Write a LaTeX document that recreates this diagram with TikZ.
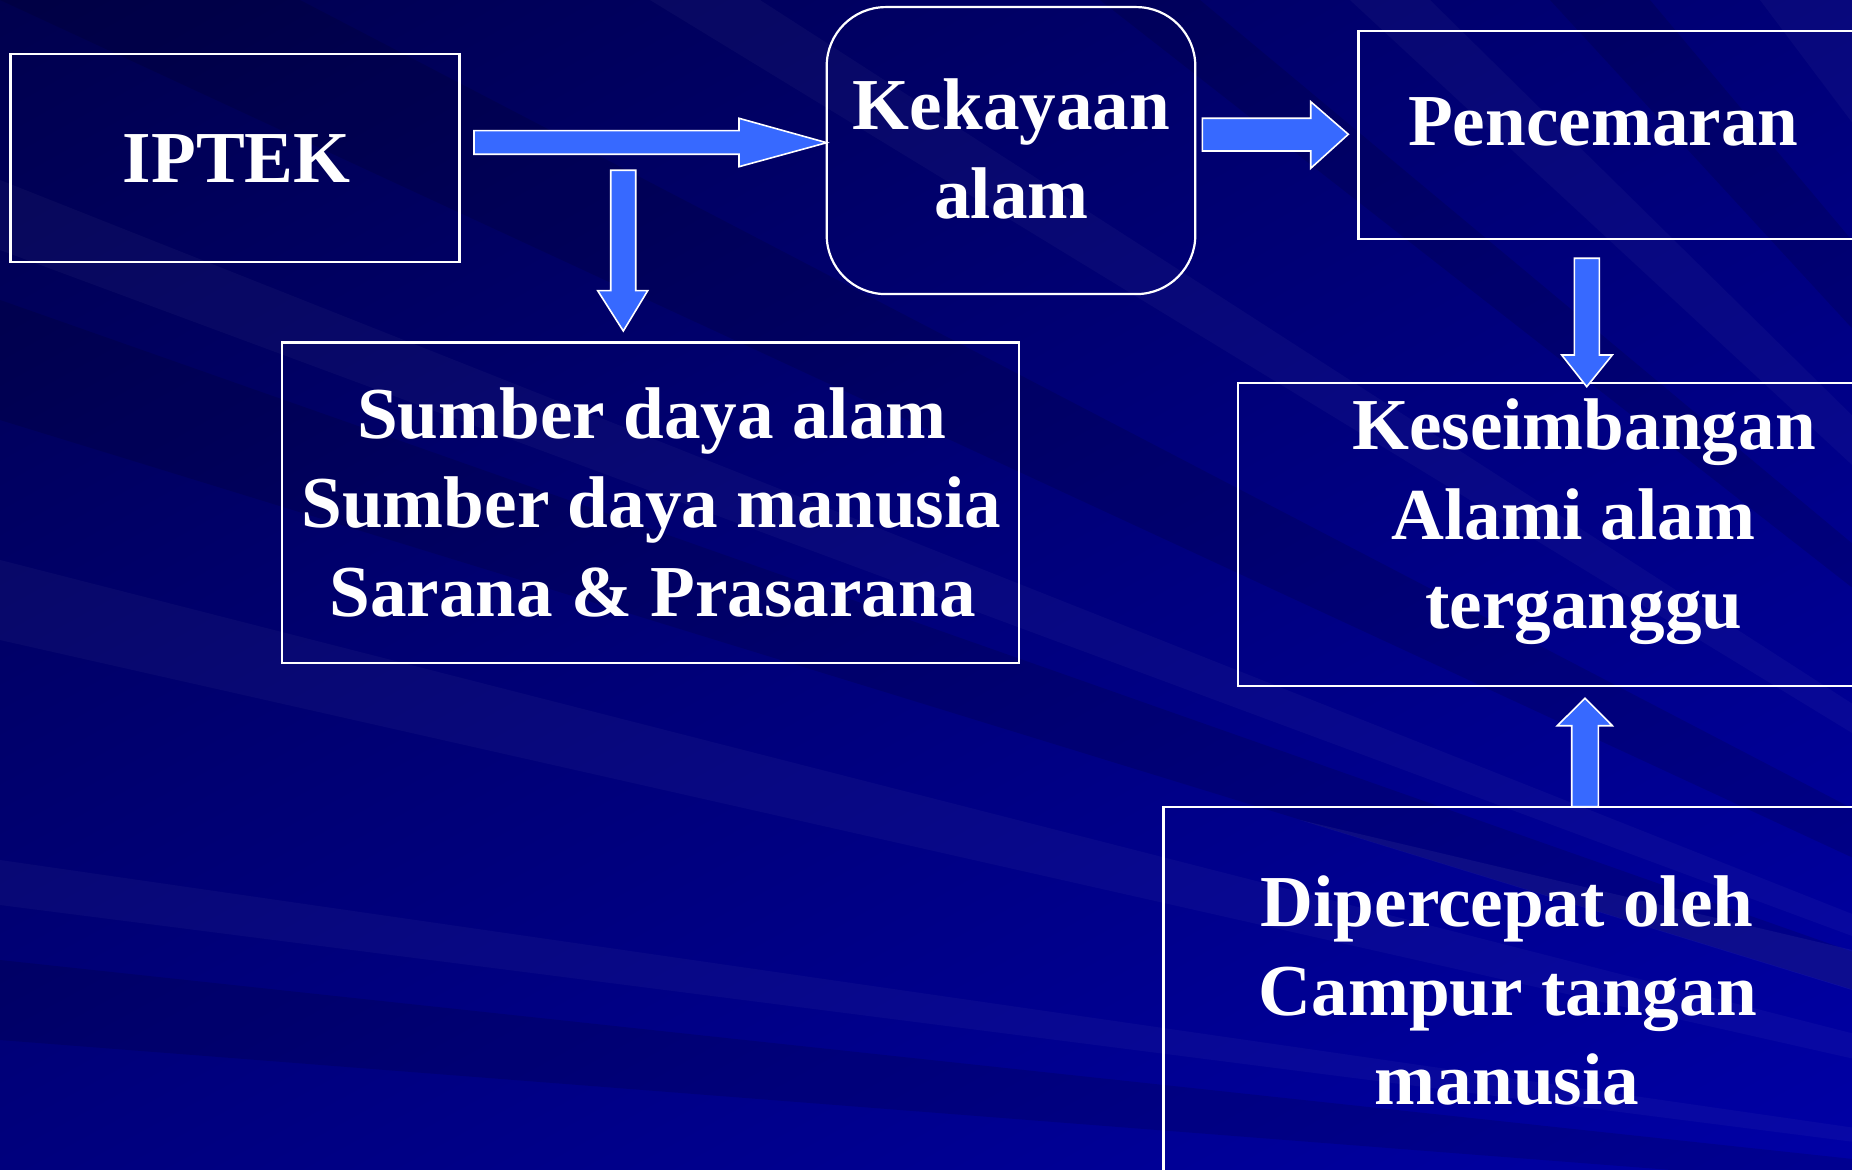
\documentclass[tikz,border=0pt]{standalone}
\usepackage{fontspec}
\setmainfont{Liberation Serif}
\usetikzlibrary{shadings}
\definecolor{bgA}{RGB}{0,0,78}
\definecolor{bgB}{RGB}{0,0,120}
\definecolor{bgC}{RGB}{0,0,125}
\definecolor{bgD}{RGB}{0,0,165}
\definecolor{arrowblue}{RGB}{55,105,255}
\begin{document}
\begin{tikzpicture}[x=0.5pt,y=-0.5pt,
  box/.style={draw=white, line width=1.1pt, inner sep=0pt},
  lbl/.style={text=white, font=\bfseries\fontsize{36.6}{44}\selectfont, anchor=base, inner sep=0pt},
  blockarrow/.style={fill=arrowblue, draw=white, line width=0.8pt, line join=miter},
  lightray/.style={fill=white, opacity=0.03},
  darkray/.style={fill=black, opacity=0.12}]
\useasboundingbox (0,0) rectangle (1852,1170);
\clip (0,0) rectangle (1852,1170);
% background
\shade[upper left=bgA, upper right=bgB, lower left=bgC, lower right=bgD] (0,0) rectangle (1852,1170);
\coordinate (focus) at (2700,1250);
\fill[lightray] (focus) -- (0,860) -- (0,905) -- cycle;
\fill[darkray] (focus) -- (0,960) -- (0,1040) -- cycle;
\fill[lightray] (focus) -- (0,560) -- (0,640) -- cycle;
\fill[darkray] (focus) -- (0,300) -- (0,420) -- cycle;
\fill[lightray] (focus) -- (0,180) -- (0,250) -- cycle;
\fill[darkray] (focus) -- (0,0) -- (300,0) -- cycle;
\fill[lightray] (focus) -- (650,0) -- (760,0) -- cycle;
\fill[darkray] (focus) -- (1100,0) -- (1200,0) -- cycle;
\fill[lightray] (focus) -- (1350,0) -- (1430,0) -- cycle;
\fill[darkray] (focus) -- (1550,0) -- (1650,0) -- cycle;
\fill[lightray] (focus) -- (1760,0) -- (1852,0) -- cycle;
\fill[white, opacity=0.05] (1300,820) -- (1852,950) -- (1852,990) -- cycle;
% boxes
\node[box, minimum width=224.5pt, minimum height=104pt] (iptekbox) at (235,158.3) {};
\node[box, rounded corners=29.5pt, minimum width=184.3pt, minimum height=143.5pt] (kekbox) at (1011,150.6) {};
\node[box, minimum width=255.8pt, minimum height=104pt] (pencbox) at (1614.2,134.65) {};
\node[box, minimum width=368.5pt, minimum height=160pt] (sumbox) at (650.8,502.6) {};
\node[box, minimum width=316.1pt, minimum height=151.75pt] (kesbox) at (1553.9,534.5) {};
\node[box, minimum width=353.3pt, minimum height=191.6pt] (dipbox) at (1516.7,998.4) {};
% texts
\node[lbl] (t1) at (236.8,183) {IPTEK};
\node[lbl] (t2a) at (1011.6,130) {Kekayaan};
\node[lbl] (t2b) at (1011.6,218.5) {alam};
\node[lbl] (t3) at (1603.3,145.3) {Pencemaran};
\node[lbl] (t4a) at (652,439) {Sumber daya alam};
\node[lbl] (t4b) at (651.4,528) {Sumber daya manusia};
\node[lbl] (t4c) at (652.6,616.5) {Sarana \& Prasarana};
\node[lbl] (t5a) at (1583.9,450) {Keseimbangan};
\node[lbl] (t5b) at (1573.2,539.8) {Alami alam};
\node[lbl] (t5c) at (1583.9,628.3) {terganggu};
\node[lbl] (t6a) at (1507,926) {Dipercepat oleh};
\node[lbl] (t6b) at (1507.7,1015.7) {Campur tangan};
\node[lbl] (t6c) at (1507,1104.3) {manusia};
% block arrows
\draw[blockarrow] (474,130.7) -- (739,130.7) -- (739,118.3) -- (826.7,142.7) -- (739,166.7) -- (739,154.3) -- (474,154.3) -- cycle;
\draw[blockarrow] (610.7,170.3) -- (635.7,170.3) -- (635.7,290.7) -- (647.7,290.7) -- (623.3,331) -- (597.7,290.7) -- (610.7,290.7) -- cycle;
\draw[blockarrow] (1202.3,118.3) -- (1310.7,118.3) -- (1310.7,101.7) -- (1348.3,134.3) -- (1310.7,168.3) -- (1310.7,151) -- (1202.3,151) -- cycle;
\draw[blockarrow] (1574.3,258.3) -- (1599.3,258.3) -- (1599.3,355) -- (1612.3,355) -- (1586.7,386.7) -- (1561.7,355) -- (1574.3,355) -- cycle;
\draw[blockarrow] (1571.7,806.7) -- (1598.3,806.7) -- (1598.3,725.7) -- (1612.3,725.7) -- (1585,698.3) -- (1557.3,725.7) -- (1571.7,725.7) -- cycle;
\end{tikzpicture}
\end{document}
